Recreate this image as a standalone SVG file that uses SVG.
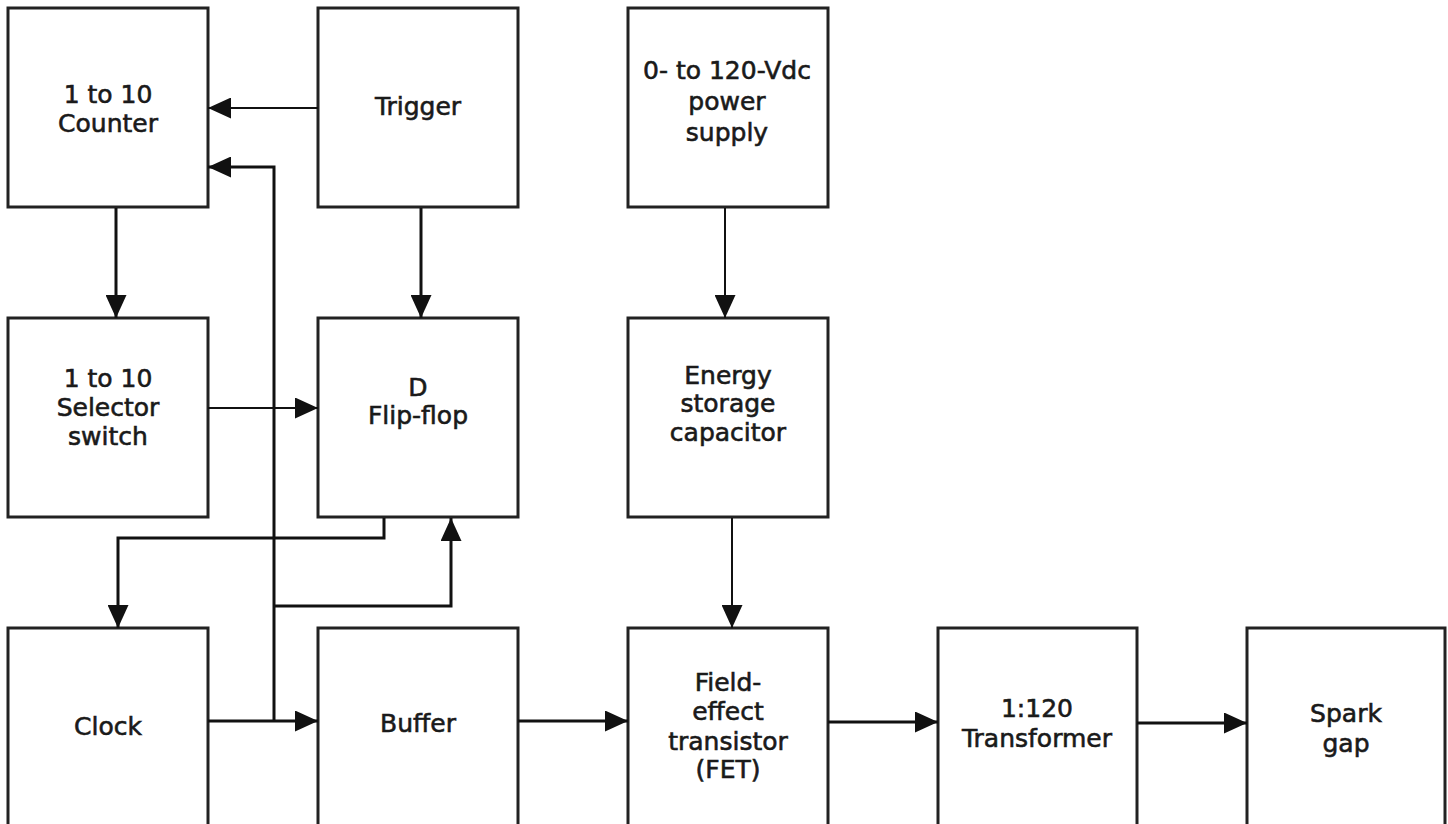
<svg xmlns="http://www.w3.org/2000/svg" width="1448" height="824" viewBox="0 0 1448 824">
<style>
.box{fill:#fff;stroke:#222;stroke-width:3}
.t{font-family:"DejaVu Sans","Liberation Sans",sans-serif;font-size:25px;fill:#1a1a1a;stroke:#1a1a1a;stroke-width:0.6;text-anchor:middle}
.c{fill:none;stroke:#111;stroke-width:3;marker-end:url(#ah)}
.thin{stroke-width:2}
</style>
<defs>
<marker id="ah" markerUnits="userSpaceOnUse" markerWidth="23" markerHeight="21" refX="23" refY="10.5" orient="auto">
<path d="M0,0 L23,10.5 L0,21 z" fill="#111"/>
</marker>
</defs>
<rect width="1448" height="824" fill="#fff"/>
<g id="counter"><rect class="box" x="8" y="8" width="200" height="199"/><text class="t" x="108" y="103">1 to 10</text><text class="t" x="108" y="132">Counter</text></g>
<g id="trigger"><rect class="box" x="318" y="8" width="200" height="199"/><text class="t" x="418" y="115">Trigger</text></g>
<g id="power"><rect class="box" x="628" y="8" width="200" height="199"/><text class="t" x="727" y="79">0- to 120-Vdc</text><text class="t" x="727" y="110">power</text><text class="t" x="727" y="141">supply</text></g>
<g id="selector"><rect class="box" x="8" y="318" width="200" height="199"/><text class="t" x="108" y="387">1 to 10</text><text class="t" x="108" y="416">Selector</text><text class="t" x="108" y="445">switch</text></g>
<g id="flipflop"><rect class="box" x="318" y="318" width="200" height="199"/><text class="t" x="418" y="396">D</text><text class="t" x="418" y="424">Flip-flop</text></g>
<g id="energy"><rect class="box" x="628" y="318" width="200" height="199"/><text class="t" x="728" y="384">Energy</text><text class="t" x="728" y="412">storage</text><text class="t" x="728" y="441">capacitor</text></g>
<g id="clock"><rect class="box" x="8" y="628" width="200" height="210"/><text class="t" x="108" y="735">Clock</text></g>
<g id="buffer"><rect class="box" x="318" y="628" width="200" height="210"/><text class="t" x="418" y="732">Buffer</text></g>
<g id="fet"><rect class="box" x="628" y="628" width="200" height="210"/><text class="t" x="728" y="691">Field-</text><text class="t" x="728" y="720">effect</text><text class="t" x="728" y="750">transistor</text><text class="t" x="728" y="778">(FET)</text></g>
<g id="transformer"><rect class="box" x="938" y="628" width="199" height="210"/><text class="t" x="1037" y="717">1:120</text><text class="t" x="1037" y="747">Transformer</text></g>
<g id="spark"><rect class="box" x="1247" y="628" width="198" height="210"/><text class="t" x="1346" y="722">Spark</text><text class="t" x="1346" y="752">gap</text></g>
<g id="connectors">
<path class="c thin" d="M318,108 H208"/>
<path class="c" d="M274,721 V167 H208"/>
<path class="c" d="M274,606 H451 V518"/>
<path class="c" d="M384,518 V538 H118 V628"/>
<path class="c" d="M116,208 V318"/>
<path class="c" d="M421,208 V318"/>
<path class="c thin" d="M208,408 H318"/>
<path class="c thin" d="M725,208 V318"/>
<path class="c thin" d="M732,518 V628"/>
<path class="c" d="M208,721 H318"/>
<path class="c" d="M518,721 H628"/>
<path class="c" d="M828,722 H938"/>
<path class="c" d="M1137,723 H1247"/>
</g>
</svg>
